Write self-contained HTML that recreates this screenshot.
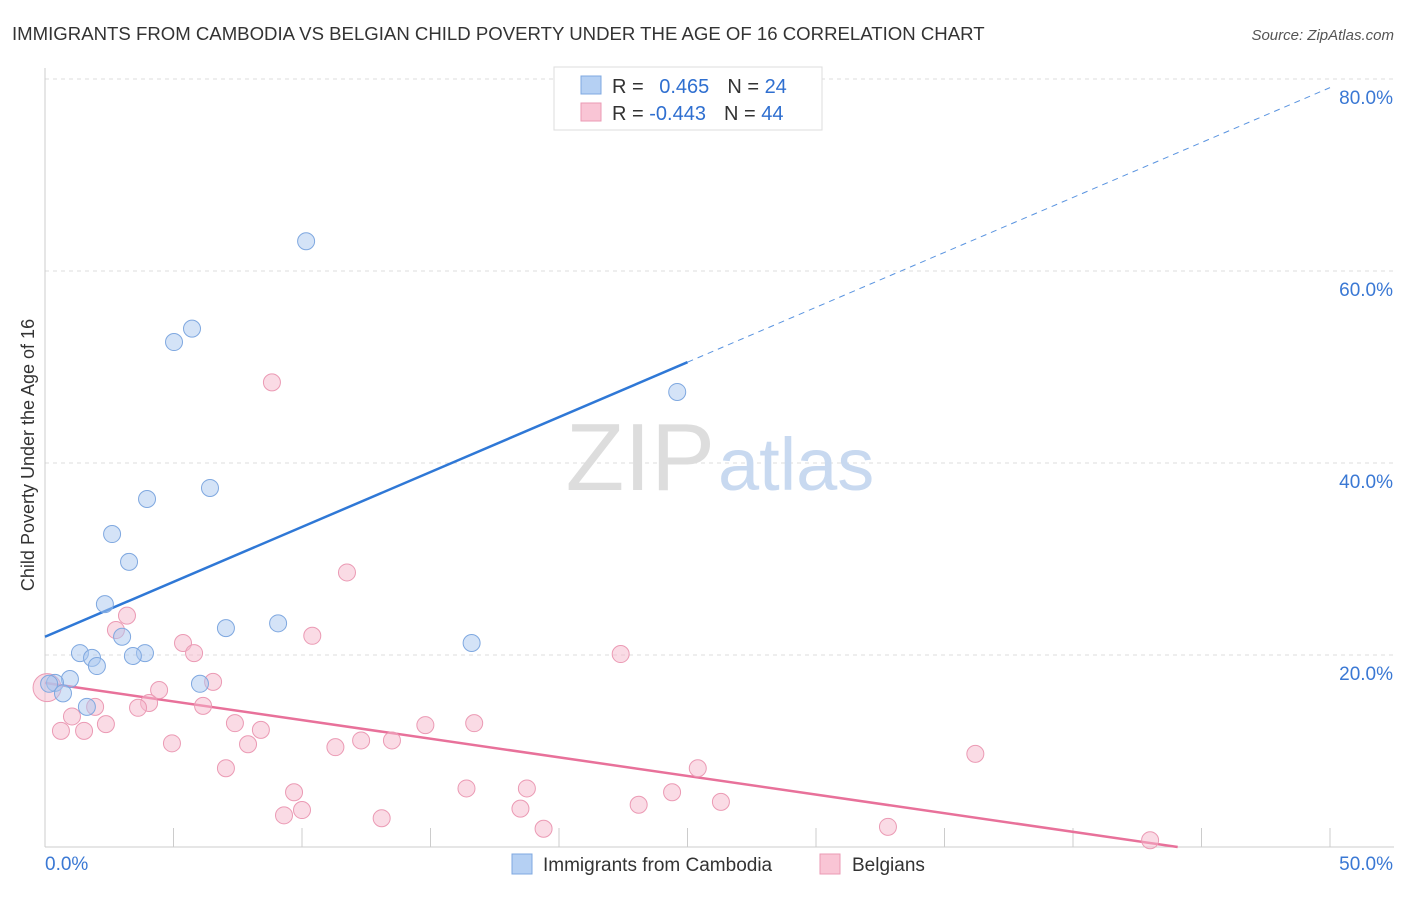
<!DOCTYPE html>
<html><head><meta charset="utf-8"><style>
body{margin:0;background:#fff;font-family:"Liberation Sans",sans-serif;}
svg text{font-family:"Liberation Sans",sans-serif;}
</style></head><body>
<svg id="chart" width="1406" height="892" xmlns="http://www.w3.org/2000/svg">
<text x="12" y="40" font-size="18.6" fill="#333">IMMIGRANTS FROM CAMBODIA VS BELGIAN CHILD POVERTY UNDER THE AGE OF 16 CORRELATION CHART</text>
<text x="1394" y="40" font-size="15" fill="#555" font-style="italic" text-anchor="end">Source: ZipAtlas.com</text>
<text x="0" y="0" transform="translate(34,455) rotate(-90)" font-size="18" fill="#333" text-anchor="middle">Child Poverty Under the Age of 16</text>
<g id="grid"></g>
<text x="715" y="490" font-size="96" fill="#ddd" font-family="Liberation Serif" text-anchor="end">ZIP</text>
<text x="718" y="490" font-size="74" fill="#c8d9f0">atlas</text>
<g id="trends"></g>
<g id="points"></g>
<g>
<rect x="554" y="67" width="268" height="63" fill="#fff" stroke="#ddd"/>
<rect x="581" y="76" width="20" height="18" fill="#b5d0f3" stroke="#7fa8e0"/>
<rect x="581" y="103" width="20" height="18" fill="#f9c5d5" stroke="#eb9ab4"/>
<text x="612" y="93" font-size="20" fill="#333">R = <tspan fill="#2f6fd0" dx="10">0.465</tspan><tspan dx="18" fill="#333">N = </tspan><tspan fill="#2f6fd0">24</tspan></text>
<text x="612" y="120" font-size="20" fill="#333">R = <tspan fill="#2f6fd0">-0.443</tspan><tspan dx="18" fill="#333">N = </tspan><tspan fill="#2f6fd0">44</tspan></text>
</g>
<g>
<rect x="512" y="854" width="20" height="20" fill="#b5d0f3" stroke="#7fa8e0"/>
<text x="543" y="871" font-size="19" fill="#333">Immigrants from Cambodia</text>
<rect x="820" y="854" width="20" height="20" fill="#f9c5d5" stroke="#eb9ab4"/>
<text x="852" y="871" font-size="19" fill="#333">Belgians</text>
</g>
</svg>
<script>
const yTicks=[20,40,60,80];
const xTickLabels=["0.0%","50.0%"];
const blueX=[10.16,5.72,5.02,24.6,6.42,3.97,2.61,3.27,2.33,9.07,7.04,3.0,16.6,1.36,1.83,3.89,3.42,2.02,0.97,0.39,0.16,0.7,6.03,1.63];
const blueY=[63.1,54.0,52.6,47.4,37.4,36.25,32.6,29.7,25.3,23.3,22.8,21.9,21.25,20.2,19.7,20.2,19.9,18.85,17.5,17.1,17.0,16.0,17.0,14.6];
const pinkX=[8.83,11.75,3.19,2.76,10.4,5.37,5.8,22.4,6.54,4.44,0.08,4.05,1.95,3.62,6.15,1.05,2.37,7.39,16.7,14.8,0.62,1.52,8.4,12.3,13.5,4.94,7.9,11.3,36.2,7.04,25.4,9.69,16.4,18.75,24.4,10.0,9.3,18.5,23.1,26.3,13.1,19.4,32.8,43.0];
const pinkY=[48.4,28.6,24.1,22.6,22.0,21.25,20.2,20.1,17.2,16.35,16.6,15.0,14.6,14.5,14.7,13.6,12.8,12.9,12.9,12.7,12.1,12.1,12.2,11.1,11.1,10.8,10.7,10.4,9.7,8.2,8.2,5.7,6.1,6.1,5.7,3.85,3.3,4.0,4.4,4.7,3.0,1.9,2.1,0.7];
const blueTrend=[21.9,79.1];
const pinkTrend=[17.1,-2.3];
const NS="http://www.w3.org/2000/svg";
const X=v=>45+v*25.7, Y=v=>847-v*9.6;
function mk(t,a,p){const e=document.createElementNS(NS,t);for(const k in a)e.setAttribute(k,a[k]);p.appendChild(e);return e;}
const grid=document.getElementById('grid');
for(const t of yTicks){
 const l=mk('line',{x1:45,x2:1394,y1:Y(t),y2:Y(t),stroke:'#ddd','stroke-dasharray':'4,4'},grid);
 
 
 const tx=mk('text',{x:1393,y:Y(t)+25,'font-size':19,fill:'#3a78d4','text-anchor':'end'},grid);
 tx.textContent=t.toFixed(1)+'%';
 
 
}
mk('line',{x1:45,x2:45,y1:68,y2:847,stroke:'#ccc'},grid);
mk('line',{x1:45,x2:1394,y1:847,y2:847,stroke:'#ccc'},grid);
for(let i=0;i<=10;i++){mk('line',{x1:X(i*5),x2:X(i*5),y1:828,y2:847,stroke:'#ccc'},grid);}
const xl0=mk('text',{x:45,y:870,'font-size':19,fill:'#3a78d4'},grid);xl0.textContent=xTickLabels[0];


const xl1=mk('text',{x:1393,y:870,'font-size':19,fill:'#3a78d4','text-anchor':'end'},grid);xl1.textContent=xTickLabels[1];


const tr=document.getElementById('trends');
const bAt=x=>blueTrend[0]+(blueTrend[1]-blueTrend[0])*x/50;
const maxBX=Math.max(...blueX)+0.4;
const bl=mk('line',{x1:X(0),y1:Y(bAt(0)),x2:X(maxBX),y2:Y(bAt(maxBX)),stroke:'#2f78d6','stroke-width':2.5},tr);


const bd=mk('line',{x1:X(maxBX),y1:Y(bAt(maxBX)),x2:X(50),y2:Y(bAt(50)),stroke:'#5a94e0','stroke-width':1,'stroke-dasharray':'6,5'},tr);


const pz=Math.min(50,50*pinkTrend[0]/(pinkTrend[0]-pinkTrend[1]));
const pl=mk('line',{x1:X(0),y1:Y(pinkTrend[0]),x2:X(pz),y2:Y(pinkTrend[0]+(pinkTrend[1]-pinkTrend[0])*pz/50),stroke:'#e8719a','stroke-width':2.5},tr);


const pts=document.getElementById('points');
pinkX.forEach((x,i)=>{
 const c=mk('circle',{cx:X(x),cy:Y(pinkY[i]),r:i===10?14:8.5,fill:'#f6b8cb','fill-opacity':0.5,stroke:'#eb9ab4','stroke-width':1},pts);
 
 
});
blueX.forEach((x,i)=>{
 const c=mk('circle',{cx:X(x),cy:Y(blueY[i]),r:8.5,fill:'#a9c8f0','fill-opacity':0.5,stroke:'#7fa8e0','stroke-width':1},pts);
 
 
});
</script>
</body></html>
